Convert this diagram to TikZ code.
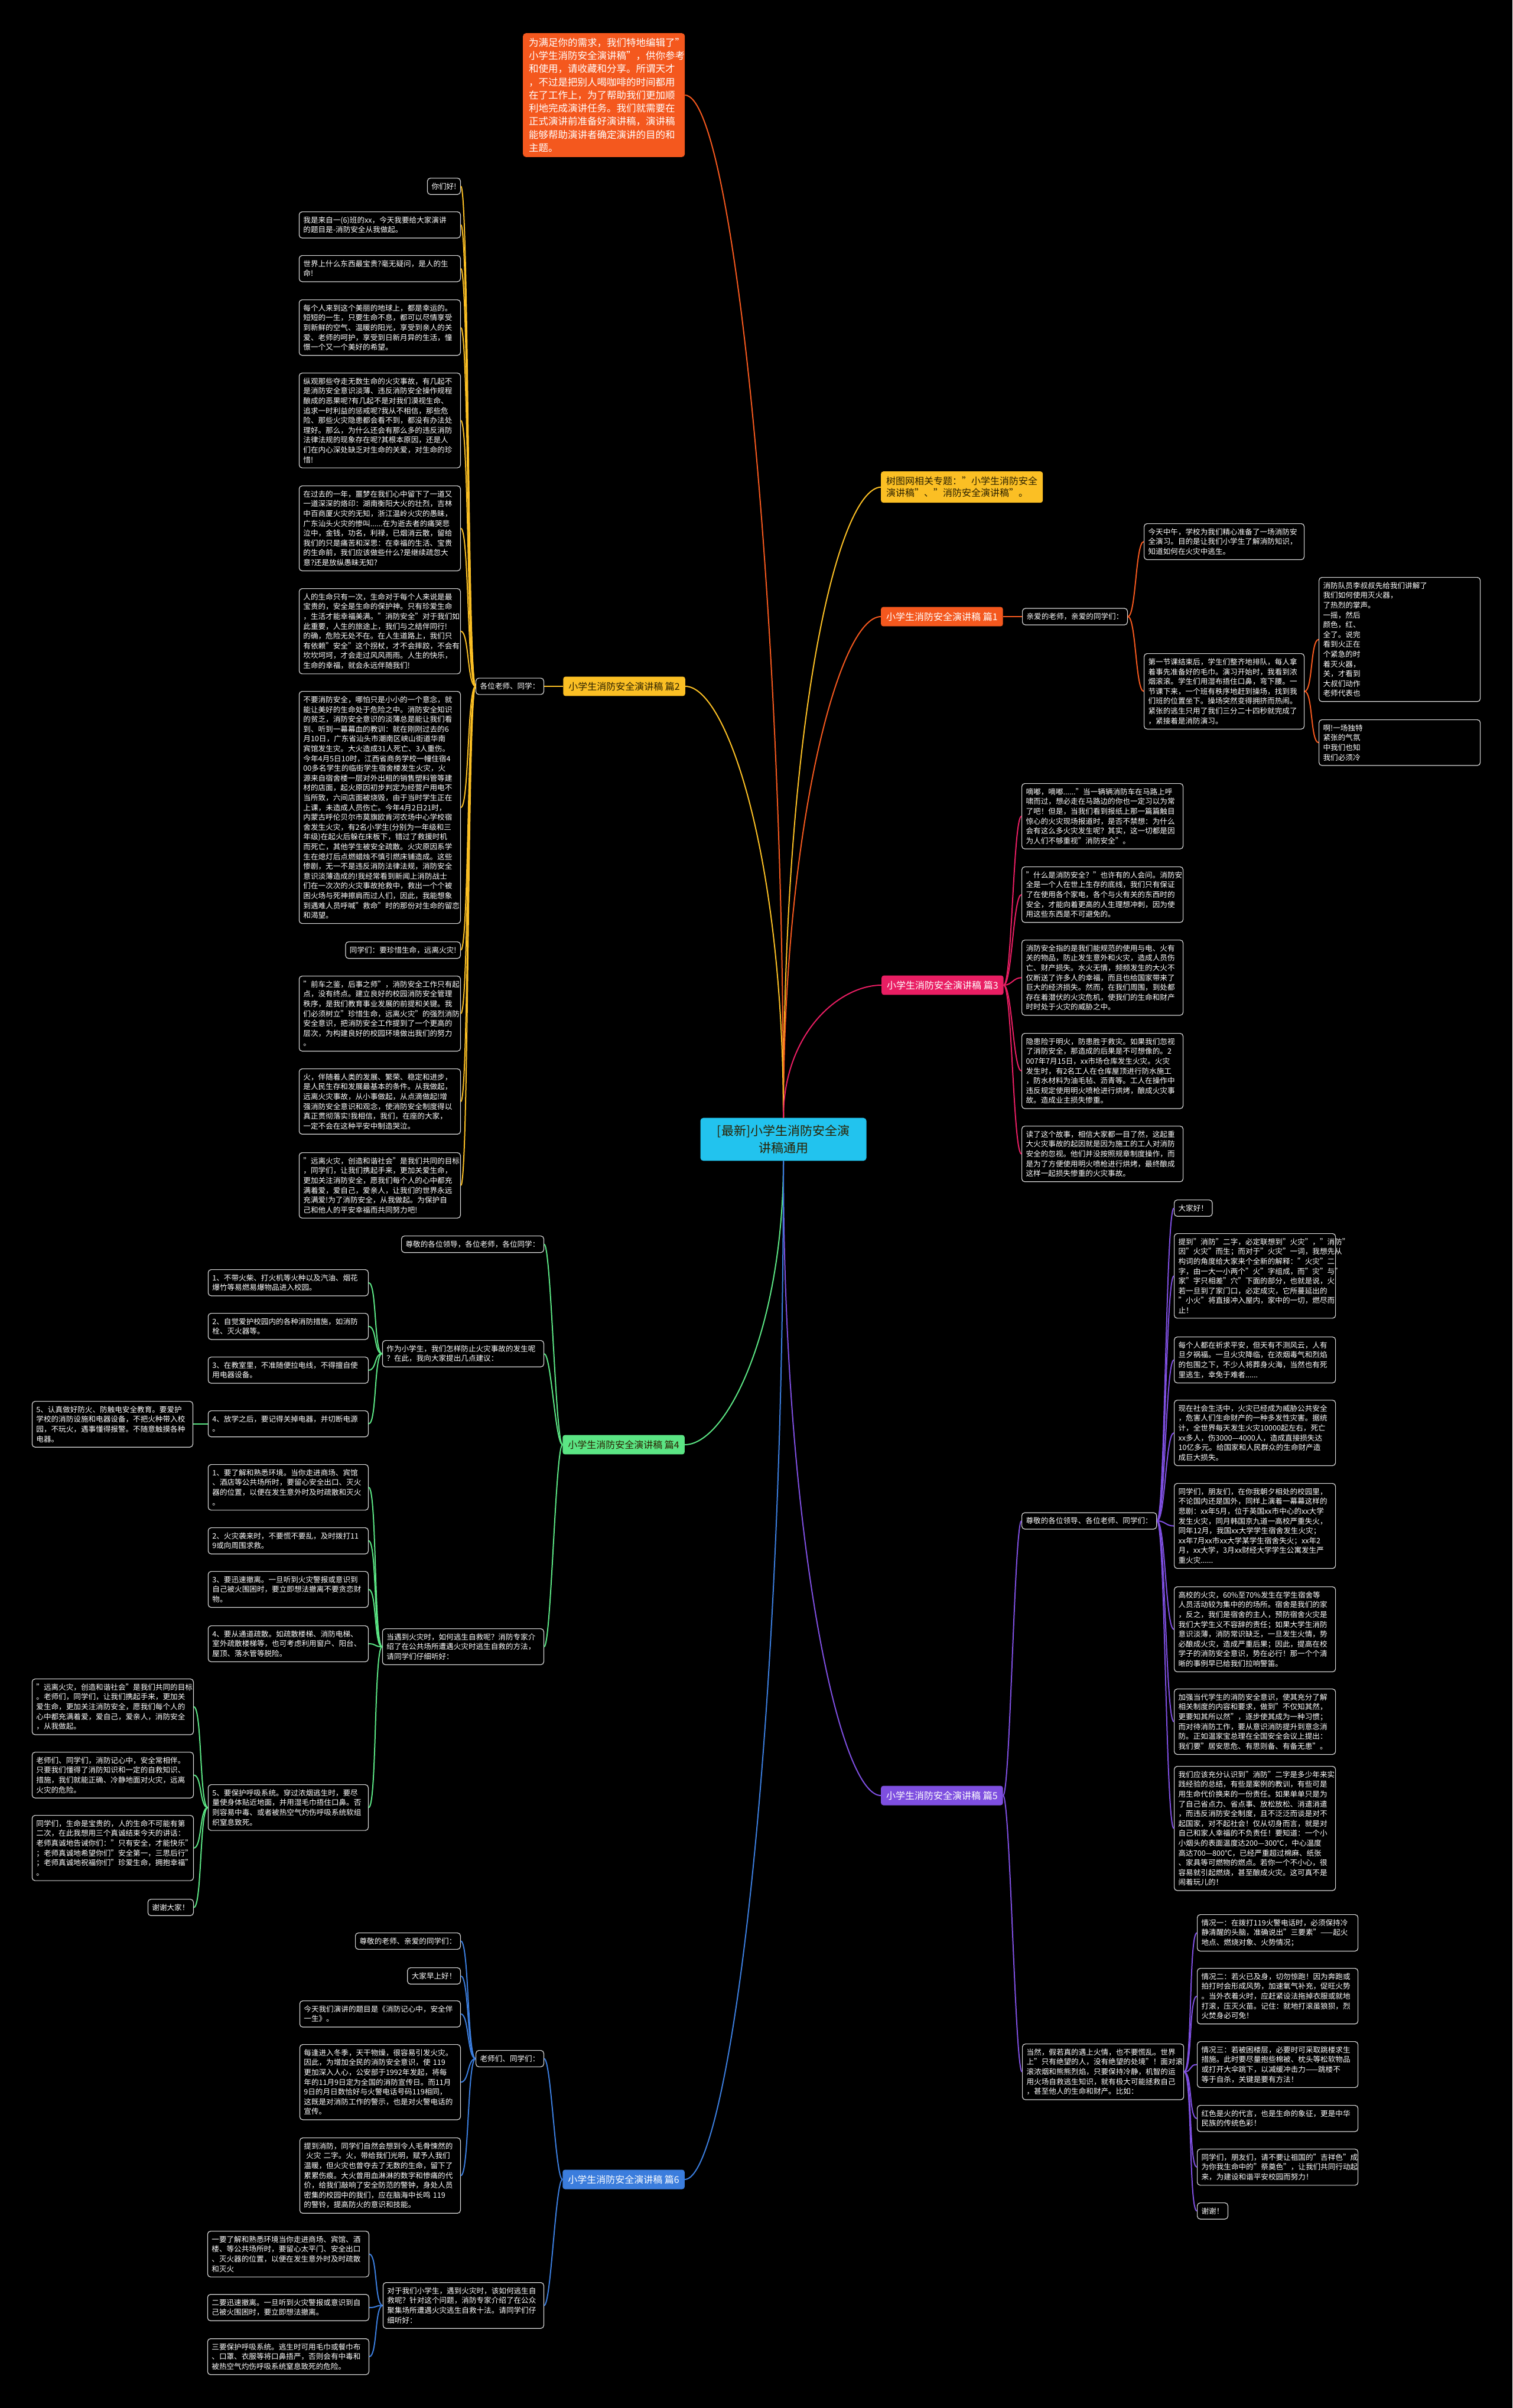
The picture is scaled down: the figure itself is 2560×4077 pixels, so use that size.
\documentclass[tikz,border=0pt]{standalone}
\usepackage{fontspec}
\setmainfont{Noto Sans CJK SC}
\definecolor{cOrange}{HTML}{F4581E}
\definecolor{cAmber}{HTML}{FBBF24}
\definecolor{cPink}{HTML}{E91E63}
\definecolor{cGreen}{HTML}{5BE584}
\definecolor{cPurple}{HTML}{7E4FE0}
\definecolor{cBlue}{HTML}{3B7DDD}
\definecolor{cCyan}{HTML}{22C3EE}
\definecolor{cDark}{HTML}{2B2100}
\begin{document}
\begin{tikzpicture}[x=1pt,y=-1pt,
    leaf/.style={draw=white!85!black,line width=1.2pt,rounded corners=5pt,fill=black,text=white,
      font=\fontsize{12.6}{16.6}\selectfont,align=left,inner xsep=7pt,inner ysep=8pt},
    para/.style={leaf,text width=259pt},
    branch/.style={rounded corners=4pt,font=\fontsize{16}{20}\selectfont,inner xsep=9pt,inner ysep=9pt},
    link/.style={line width=2pt}]
\useasboundingbox (0,0) rectangle (2560,4077);
\fill[black] (0,0) rectangle (2560,4077);

% centre and top note
\node[fill=cCyan,text=cDark,rounded corners=5pt,font=\fontsize{21}{29}\selectfont,align=center,
  text width=257pt,inner xsep=12pt,inner ysep=12pt] (ctr) at (1326,1929) {[最新]小学生消防安全演\\讲稿通用};
\node[fill=cOrange,text=white,rounded corners=5pt,font=\fontsize{16.5}{22.3}\selectfont,align=left,
  text width=254pt,inner xsep=10pt,inner ysep=8pt,anchor=north west] (note) at (885,56)
  {为满足你的需求，我们特地编辑了"\\小学生消防安全演讲稿"，供你参考\\和使用，请收藏和分享。所谓天才\\，不过是把别人喝咖啡的时间都用\\在了工作上，为了帮助我们更加顺\\利地完成演讲任务。我们就需要在\\正式演讲前准备好演讲稿，演讲稿\\能够帮助演讲者确定演讲的目的和\\主题。};
\node[branch,fill=cAmber,text=cDark,align=left,anchor=north west] (rel) at (1491,798)
  {树图网相关专题："小学生消防安全\\演讲稿"、"消防安全演讲稿"。};

% branch nodes
\node[branch,fill=cOrange,text=white,anchor=west] (b1) at (1491,1044) {小学生消防安全演讲稿 篇1};
\node[branch,fill=cAmber,text=cDark,anchor=east] (b2) at (1160,1162) {小学生消防安全演讲稿 篇2};
\node[branch,fill=cPink,text=white,anchor=west] (b3) at (1492,1668) {小学生消防安全演讲稿 篇3};
\node[branch,fill=cGreen,text=cDark,anchor=east] (b4) at (1159,2446) {小学生消防安全演讲稿 篇4};
\node[branch,fill=cPurple,text=white,anchor=west] (b5) at (1491,3040) {小学生消防安全演讲稿 篇5};
\node[branch,fill=cBlue,text=white,anchor=east] (b6) at (1159,3690) {小学生消防安全演讲稿 篇6};

\draw[link,cOrange] (ctr.north) .. controls (1326,1000) and (1240,163) .. (note.east);
\draw[link,cAmber] (ctr.north) .. controls (1326,1200) and (1420,828) .. (rel.west);
\draw[link,cOrange] (ctr.north) .. controls (1326,1400) and (1420,1044) .. (b1.west);
\draw[link,cAmber] (ctr.north) .. controls (1326,1450) and (1230,1162) .. (b2.east);
\draw[link,cPink] (ctr.north) .. controls (1326,1750) and (1420,1668) .. (b3.west);
\draw[link,cGreen] (ctr.south) .. controls (1326,2250) and (1230,2446) .. (b4.east);
\draw[link,cPurple] (ctr.south) .. controls (1326,2600) and (1420,3040) .. (b5.west);
\draw[link,cBlue] (ctr.south) .. controls (1326,3000) and (1230,3690) .. (b6.east);

% part 1
\node[leaf,anchor=west] (h1) at (1730,1044) {亲爱的老师，亲爱的同学们：};
\node[para,text width=257pt,anchor=north west] (l1a) at (1936,886)
  {今天中午，学校为我们精心准备了一场消防安\\全演习。目的是让我们小学生了解消防知识，\\知道如何在火灾中逃生。};
\node[para,text width=257pt,anchor=north west] (l1b) at (1936,1106)
  {第一节课结束后，学生们整齐地排队，每人拿\\着事先准备好的毛巾。演习开始时，我看到浓\\烟滚滚。学生们用湿布捂住口鼻，弯下腰。一\\节课下来，一个班有秩序地赶到操场，找到我\\们班的位置坐下。操场突然变得拥挤而热闹。\\紧张的逃生只用了我们三分二十四秒就完成了\\，紧接着是消防演习。};
\node[para,anchor=north west] (l1c) at (2232,977)
  {消防队员李叔叔先给我们讲解了\\我们如何使用灭火器，\\了热烈的掌声。\\一摇，然后\\颜色，红、\\全了。说完\\看到火正在\\个紧急的时\\着灭火器，\\关，才看到\\大叔们动作\\老师代表也};
\node[para,anchor=north west] (l1d) at (2232,1218)
  {啊!一场独特\\紧张的气氛\\中我们也知\\我们必须冷};
\draw[link,cOrange] (b1.east) -- (h1.west);
\foreach \n in {l1a,l1b}
  \draw[link,cOrange] (h1.east) .. controls +(14,0) and +(-14,0) .. (\n.west);
\foreach \n in {l1c,l1d}
  \draw[link,cOrange] (l1b.east) .. controls +(14,0) and +(-14,0) .. (\n.west);

% part 2
\node[leaf,anchor=east] (h2) at (921,1162) {各位老师、同学：};
\node[leaf,anchor=north east] (l2a) at (780,301) {你们好!};
\node[para,anchor=north east] (l2b) at (780,358)
  {我是来自一(6)班的xx，今天我要给大家演讲\\的题目是-消防安全从我做起。};
\node[para,anchor=north east] (l2c) at (780,432)
  {世界上什么东西最宝贵?毫无疑问，是人的生\\命!};
\node[para,anchor=north east] (l2d) at (780,507)
  {每个人来到这个美丽的地球上，都是幸运的。\\短短的一生，只要生命不息，都可以尽情享受\\到新鲜的空气、温暖的阳光，享受到亲人的关\\爱、老师的呵护，享受到日新月异的生活，憧\\憬一个又一个美好的希望。};
\node[para,anchor=north east] (l2e) at (780,631)
  {纵观那些夺走无数生命的火灾事故，有几起不\\是消防安全意识淡薄、违反消防安全操作规程\\酿成的恶果呢?有几起不是对我们漠视生命、\\追求一时利益的惩戒呢?我从不相信，那些危\\险、那些火灾隐患都会看不到，都没有办法处\\理好。那么，为什么还会有那么多的违反消防\\法律法规的现象存在呢?其根本原因，还是人\\们在内心深处缺乏对生命的关爱，对生命的珍\\惜!};
\node[para,anchor=north east] (l2f) at (780,822)
  {在过去的一年，噩梦在我们心中留下了一道又\\一道深深的烙印：湖南衡阳大火的壮烈，吉林\\中百商厦火灾的无知，浙江温岭火灾的愚昧，\\广东汕头火灾的惨叫......在为逝去者的痛哭悲\\泣中，金钱，功名，利禄，已烟消云散，留给\\我们的只是痛苦和深思：在幸福的生活、宝贵\\的生命前，我们应该做些什么?是继续疏忽大\\意?还是放纵愚昧无知?};
\node[para,anchor=north east] (l2g) at (780,996)
  {人的生命只有一次，生命对于每个人来说是最\\宝贵的，安全是生命的保护神。只有珍爱生命\\，生活才能幸福美满。"消防安全"对于我们如\\此重要，人生的旅途上，我们与之结伴同行!\\的确，危险无处不在。在人生道路上，我们只\\有依赖"安全"这个拐杖，才不会摔跤，不会有\\坎坎坷坷，才会走过风风雨雨。人生的快乐，\\生命的幸福，就会永远伴随我们!};
\node[para,anchor=north east] (l2h) at (780,1170)
  {不要消防安全，哪怕只是小小的一个意念，就\\能让美好的生命处于危险之中。消防安全知识\\的贫乏，消防安全意识的淡薄总是能让我们看\\到、听到一幕幕血的教训：就在刚刚过去的6\\月10日，广东省汕头市潮南区峡山街道华南\\宾馆发生灾。大火造成31人死亡、3人重伤。\\今年4月5日10时，江西省商务学校一幢住宿4\\00多名学生的临街学生宿舍楼发生火灾，火\\源来自宿舍楼一层对外出租的销售塑料管等建\\材的店面，起火原因初步判定为经营户用电不\\当所致，六间店面被烧毁，由于当时学生正在\\上课，未造成人员伤亡。今年4月2日21时，\\内蒙古呼伦贝尔市莫旗欧肯河农场中心学校宿\\舍发生火灾，有2名小学生(分别为一年级和三\\年级)在起火后躲在床板下，错过了救援时机\\而死亡，其他学生被安全疏散。火灾原因系学\\生在熄灯后点燃蜡烛不慎引燃床铺造成。这些\\惨剧，无一不是违反消防法律法规，消防安全\\意识淡薄造成的!我经常看到新闻上消防战士\\们在一次次的火灾事故抢救中，救出一个个被\\困火场与死神擦肩而过人们，因此，我能想象\\到遇难人员呼喊"救命"时的那份对生命的留恋\\和渴望。};
\node[leaf,anchor=north east] (l2i) at (780,1594) {同学们：要珍惜生命，远离火灾!};
\node[para,anchor=north east] (l2j) at (780,1652)
  {"前车之鉴，后事之师"，消防安全工作只有起\\点，没有终点。建立良好的校园消防安全管理\\秩序，是我们教育事业发展的前提和关键。我\\们必须树立"珍惜生命，远离火灾"的强烈消防\\安全意识，把消防安全工作提到了一个更高的\\层次，为构建良好的校园环境做出我们的努力\\。};
\node[para,anchor=north east] (l2k) at (780,1809)
  {火，伴随着人类的发展、繁荣、稳定和进步，\\是人民生存和发展最基本的条件。从我做起，\\远离火灾事故，从小事做起，从点滴做起!增\\强消防安全意识和观念，使消防安全制度得以\\真正贯彻落实!我相信，我们，在座的大家，\\一定不会在这种平安中制造哭泣。};
\node[para,anchor=north east] (l2l) at (780,1951)
  {"远离火灾，创造和谐社会"是我们共同的目标\\，同学们，让我们携起手来，更加关爱生命，\\更加关注消防安全，愿我们每个人的心中都充\\满着爱，爱自己，爱亲人，让我们的世界永远\\充满爱!为了消防安全，从我做起。为保护自\\己和他人的平安幸福而共同努力吧!};
\draw[link,cAmber] (b2.west) -- (h2.east);
\foreach \n in {l2a,l2b,l2c,l2d,l2e,l2f,l2g,l2h,l2i,l2j,l2k,l2l}
  \draw[link,cAmber] (h2.west) .. controls +(-14,0) and +(14,0) .. (\n.east);

% part 3
\node[para,anchor=north west] (l3a) at (1729,1326)
  {嘀嘟，嘀嘟......"当一辆辆消防车在马路上呼\\啸而过，想必走在马路边的你也一定习以为常\\了吧！但是，当我们看到报纸上那一篇篇触目\\惊心的火灾现场报道时，是否不禁想：为什么\\会有这么多火灾发生呢？其实，这一切都是因\\为人们不够重视"消防安全"。};
\node[para,anchor=north west] (l3b) at (1729,1467)
  {"什么是消防安全？"也许有的人会问。消防安\\全是一个人在世上生存的底线，我们只有保证\\了在使用各个家电，各个与火有关的东西时的\\安全，才能向着更高的人生理想冲刺，因为使\\用这些东西是不可避免的。};
\node[para,anchor=north west] (l3c) at (1729,1591)
  {消防安全指的是我们能规范的使用与电、火有\\关的物品，防止发生意外和火灾，造成人员伤\\亡、财产损失。水火无情，频频发生的大火不\\仅断送了许多人的幸福，而且也给国家带来了\\巨大的经济损失。然而，在我们周围，到处都\\存在着潜伏的火灾危机，使我们的生命和财产\\时时处于火灾的威胁之中。};
\node[para,anchor=north west] (l3d) at (1729,1749)
  {隐患险于明火，防患胜于救灾。如果我们忽视\\了消防安全，那造成的后果是不可想像的。2\\007年7月15日，xx市场仓库发生火灾。火灾\\发生时，有2名工人在仓库屋顶进行防水施工\\，防水材料为油毛毡、沥青等。工人在操作中\\违反规定使用明火喷枪进行烘烤，酿成火灾事\\故。造成业主损失惨重。};
\node[para,anchor=north west] (l3e) at (1729,1906)
  {读了这个故事，相信大家都一目了然，这起重\\大火灾事故的起因就是因为施工的工人对消防\\安全的忽视。他们并没按照规章制度操作，而\\是为了方便使用明火喷枪进行烘烤，最终酿成\\这样一起损失惨重的火灾事故。};
\foreach \n in {l3a,l3b,l3c,l3d,l3e}
  \draw[link,cPink] (b3.east) .. controls +(14,0) and +(-14,0) .. (\n.west);

% part 4
\node[leaf,anchor=north east] (h4a) at (921,2092) {尊敬的各位领导，各位老师，各位同学：};
\node[para,anchor=north east] (h4b) at (921,2269)
  {作为小学生，我们怎样防止火灾事故的发生呢\\？在此，我向大家提出几点建议：};
\node[para,anchor=north east] (h4c) at (921,2757)
  {当遇到火灾时，如何逃生自救呢？消防专家介\\绍了在公共场所遭遇火灾时逃生自救的方法，\\请同学们仔细听好：};
\node[para,text width=257pt,anchor=north east] (l4a) at (624,2149)
  {1、不带火柴、打火机等火种以及汽油、烟花\\爆竹等易燃易爆物品进入校园。};
\node[para,text width=257pt,anchor=north east] (l4b) at (624,2223)
  {2、自觉爱护校园内的各种消防措施，如消防\\栓、灭火器等。};
\node[para,text width=257pt,anchor=north east] (l4c) at (624,2297)
  {3、在教室里，不准随便拉电线，不得擅自使\\用电器设备。};
\node[para,text width=257pt,anchor=north east] (l4d) at (624,2388)
  {4、放学之后，要记得关掉电器，并切断电源\\。};
\node[para,text width=258pt,anchor=north east] (l4e) at (327,2372)
  {5、认真做好防火、防触电安全教育。要爱护\\学校的消防设施和电器设备，不把火种带入校\\园，不玩火，遇事懂得报警。不随意触摸各种\\电器。};
\node[para,text width=257pt,anchor=north east] (l4f) at (624,2479)
  {1、要了解和熟悉环境。当你走进商场、宾馆\\、酒店等公共场所时，要留心安全出口、灭火\\器的位置，以便在发生意外时及时疏散和灭火\\。};
\node[para,text width=257pt,anchor=north east] (l4g) at (624,2586)
  {2、火灾袭来时，不要慌不要乱，及时拨打11\\9或向周围求救。};
\node[para,text width=257pt,anchor=north east] (l4h) at (624,2660)
  {3、要迅速撤离。一旦听到火灾警报或意识到\\自己被火围困时，要立即想法撤离不要贪恋财\\物。};
\node[para,text width=257pt,anchor=north east] (l4i) at (624,2752)
  {4、要从通道疏散。如疏散楼梯、消防电梯、\\室外疏散楼梯等，也可考虑利用窗户、阳台、\\屋顶、落水管等脱险。};
\node[para,text width=257pt,anchor=north east] (l4j) at (624,3021)
  {5、要保护呼吸系统。穿过浓烟逃生时，要尽\\量使身体贴近地面，并用湿毛巾捂住口鼻。否\\则容易中毒、或者被热空气灼伤呼吸系统软组\\织窒息致死。};
\node[para,text width=259pt,anchor=north east] (l4k) at (328,2842)
  {"远离火灾，创造和谐社会"是我们共同的目标\\。老师们，同学们，让我们携起手来，更加关\\爱生命，更加关注消防安全，愿我们每个人的\\心中都充满着爱，爱自己，爱亲人，消防安全\\，从我做起。};
\node[para,text width=259pt,anchor=north east] (l4l) at (328,2966)
  {老师们、同学们，消防记心中，安全常相伴。\\只要我们懂得了消防知识和一定的自救知识、\\措施，我们就能正确、冷静地面对火灾，远离\\火灾的危险。};
\node[para,text width=259pt,anchor=north east] (l4m) at (328,3073)
  {同学们，生命是宝贵的，人的生命不可能有第\\二次，在此我想用三个真诚结束今天的讲话：\\老师真诚地告诫你们："只有安全，才能快乐"\\；老师真诚地希望你们"安全第一，三思后行"\\；老师真诚地祝福你们"珍爱生命，拥抱幸福"\\。};
\node[leaf,anchor=north east] (l4n) at (328,3215) {谢谢大家！};
\foreach \n in {h4a,h4b,h4c}
  \draw[link,cGreen] (b4.west) .. controls +(-12,0) and +(12,0) .. (\n.east);
\foreach \n in {l4a,l4b,l4c,l4d}
  \draw[link,cGreen] (h4b.west) .. controls +(-14,0) and +(14,0) .. (\n.east);
\draw[link,cGreen] (l4d.west) -- (l4e.east |- l4d.west);
\foreach \n in {l4f,l4g,l4h,l4i,l4j}
  \draw[link,cGreen] (h4c.west) .. controls +(-14,0) and +(14,0) .. (\n.east);
\foreach \n in {l4k,l4l,l4m,l4n}
  \draw[link,cGreen] (l4j.west) .. controls +(-14,0) and +(14,0) .. (\n.east);

% part 5
\node[leaf,anchor=west] (h5a) at (1729,2575) {尊敬的各位领导、各位老师、同学们：};
\node[para,anchor=north west] (h5b) at (1730,3460)
  {当然，假若真的遇上火情，也不要慌乱。世界\\上"只有绝望的人，没有绝望的处境"！面对滚\\滚浓烟和熊熊烈焰，只要保持冷静，机智的运\\用火场自救逃生知识，就有极大可能拯救自己\\，甚至他人的生命和财产。比如：};
\node[leaf,anchor=north west] (l5a) at (1987,2031) {大家好！};
\node[para,anchor=north west] (l5b) at (1987,2088)
  {提到"消防"二字，必定联想到"火灾"，"消防"\\因"火灾"而生；而对于"火灾"一词，我想先从\\构词的角度给大家来个全新的解释："火灾"二\\字，由一大一小两个"火"字组成，而"灾"与"\\家"字只相差"穴"下面的部分，也就是说，火\\若一旦到了家门口，必定成灾，它所蔓延出的\\"小火"将直接冲入屋内，家中的一切，燃尽而\\止！};
\node[para,anchor=north west] (l5c) at (1987,2263)
  {每个人都在祈求平安，但天有不测风云，人有\\旦夕祸福。一旦火灾降临，在浓烟毒气和烈焰\\的包围之下，不少人将葬身火海，当然也有死\\里逃生，幸免于难者......};
\node[para,anchor=north west] (l5d) at (1987,2370)
  {现在社会生活中，火灾已经成为威胁公共安全\\，危害人们生命财产的一种多发性灾害。据统\\计，全世界每天发生火灾10000起左右，死亡\\xx多人，伤3000—4000人，造成直接损失达\\10亿多元。给国家和人民群众的生命财产造\\成巨大损失。};
\node[para,anchor=north west] (l5e) at (1987,2511)
  {同学们，朋友们，在你我朝夕相处的校园里，\\不论国内还是国外，同样上演着一幕幕这样的\\悲剧：xx年5月，位于英国xx市中心的xx大学\\发生火灾，同月韩国京九道一高校严重失火，\\同年12月，我国xx大学学生宿舍发生火灾；\\xx年7月xx市xx大学某学生宿舍失火；xx年2\\月，xx大学，3月xx财经大学学生公寓发生严\\重火灾......};
\node[para,anchor=north west] (l5f) at (1987,2686)
  {高校的火灾，60\%至70\%发生在学生宿舍等\\人员活动较为集中的的场所。宿舍是我们的家\\，反之，我们是宿舍的主人，预防宿舍火灾是\\我们大学生义不容辞的责任；如果大学生消防\\意识淡薄，消防常识缺乏，一旦发生火情，势\\必酿成火灾，造成严重后果；因此，提高在校\\学子的消防安全意识，势在必行！那一个个清\\晰的事例早已给我们拉响警笛。};
\node[para,anchor=north west] (l5g) at (1987,2859)
  {加强当代学生的消防安全意识，使其充分了解\\相关制度的内容和要求，做到"不仅知其然，\\更要知其所以然"，逐步使其成为一种习惯；\\而对待消防工作，要从意识消防提升到意念消\\防。正如温家宝总理在全国安全会议上提出：\\我们要"居安思危、有思则备、有备无患"。};
\node[para,anchor=north west] (l5h) at (1987,2990)
  {我们应该充分认识到"消防"二字是多少年来实\\践经验的总结，有些是案例的教训，有些可是\\用生命代价换来的一份责任。如果单单只是为\\了自己省点力、省点事、放松放松、消遣消遣\\，而违反消防安全制度，且不泛泛而谈是对不\\起国家，对不起社会！仅从切身而言，就是对\\自己和家人幸福的不负责任！要知道：一个小\\小烟头的表面温度达200—300℃，中心温度\\高达700—800℃，已经严重超过棉麻、纸张\\、家具等可燃物的燃点。若你一个不小心，很\\容易就引起燃烧，甚至酿成火灾。这可真不是\\闹着玩儿的！};
\node[para,text width=258pt,anchor=north west] (l5i) at (2026,3241)
  {情况一：在拨打119火警电话时，必须保持冷\\静清醒的头脑，准确说出"三要素"——起火\\地点、燃烧对象、火势情况；};
\node[para,text width=258pt,anchor=north west] (l5j) at (2026,3332)
  {情况二：若火已及身，切勿惊跑！因为奔跑或\\拍打时会形成风势，加速氧气补充，促旺火势\\。当外衣着火时，应赶紧设法拖掉衣服或就地\\打滚，压灭火苗。记住：就地打滚虽狼狈，烈\\火焚身必可免！};
\node[para,text width=258pt,anchor=north west] (l5k) at (2026,3456)
  {情况三：若被困楼层，必要时可采取跳楼求生\\措施。此时要尽量抱些棉被、枕头等松软物品\\或打开大伞跳下，以减缓冲击力——跳楼不\\等于自杀，关键是要有方法！};
\node[para,text width=258pt,anchor=north west] (l5l) at (2026,3564)
  {红色是火的代言，也是生命的象征，更是中华\\民族的传统色彩！};
\node[para,text width=258pt,anchor=north west] (l5m) at (2026,3638)
  {同学们，朋友们，请不要让祖国的"吉祥色"成\\为你我生命中的"祭奠色"，让我们共同行动起\\来，为建设和谐平安校园而努力！};
\node[leaf,anchor=north west] (l5n) at (2026,3729) {谢谢！};
\foreach \n in {h5a,h5b}
  \draw[link,cPurple] (b5.east) .. controls +(12,0) and +(-12,0) .. (\n.west);
\foreach \n in {l5a,l5b,l5c,l5d,l5e,l5f,l5g,l5h}
  \draw[link,cPurple] (h5a.east) .. controls +(14,0) and +(-14,0) .. (\n.west);
\foreach \n in {l5i,l5j,l5k,l5l,l5m,l5n}
  \draw[link,cPurple] (h5b.east) .. controls +(14,0) and +(-14,0) .. (\n.west);

% part 6
\node[leaf,anchor=north east] (h6a) at (921,3471) {老师们、同学们：};
\node[para,text width=258pt,anchor=north east] (h6b) at (921,3864)
  {对于我们小学生，遇到火灾时，该如何逃生自\\救呢？针对这个问题，消防专家介绍了在公众\\聚集场所遭遇火灾逃生自救十法。请同学们仔\\细听好：};
\node[leaf,anchor=north east] (l6a) at (780,3272) {尊敬的老师、亲爱的同学们：};
\node[leaf,anchor=north east] (l6b) at (780,3331) {大家早上好！};
\node[para,text width=258pt,anchor=north east] (l6c) at (780,3387)
  {今天我们演讲的题目是《消防记心中，安全伴\\一生》。};
\node[para,text width=258pt,anchor=north east] (l6d) at (780,3461)
  {每逢进入冬季，天干物燥，很容易引发火灾。\\因此，为增加全民的消防安全意识，使 119\\更加深入人心，公安部于1992年发起，将每\\年的11月9日定为全国的消防宣传日。而11月\\9日的月日数恰好与火警电话号码119相同，\\这既是对消防工作的警示，也是对火警电话的\\宣传。};
\node[para,text width=258pt,anchor=north east] (l6e) at (780,3619)
  {提到消防，同学们自然会想到令人毛骨悚然的\\\hspace*{0.3em}火灾 二字。火，带给我们光明，赋予人我们\\温暖，但火灾也曾夺去了无数的生命，留下了\\累累伤痕。大火曾用血淋淋的数字和惨痛的代\\价，给我们敲响了安全防范的警钟，身处人员\\密集的校园中的我们，应在脑海中长鸣 119\\的警铃，提高防火的意识和技能。};
\node[para,anchor=north east] (l6f) at (625,3777)
  {一要了解和熟悉环境当你走进商场、宾馆、酒\\楼、等公共场所时，要留心太平门、安全出口\\、灭火器的位置，以便在发生意外时及时疏散\\和灭火};
\node[para,anchor=north east] (l6g) at (625,3884)
  {二要迅速撤离。一旦听到火灾警报或意识到自\\己被火围困时，要立即想法撤离。};
\node[para,anchor=north east] (l6h) at (625,3959)
  {三要保护呼吸系统。逃生时可用毛巾或餐巾布\\、口罩、衣服等将口鼻捂严，否则会有中毒和\\被热空气灼伤呼吸系统窒息致死的危险。};
\foreach \n in {h6a,h6b}
  \draw[link,cBlue] (b6.west) .. controls +(-12,0) and +(12,0) .. (\n.east);
\foreach \n in {l6a,l6b,l6c,l6d,l6e}
  \draw[link,cBlue] (h6a.west) .. controls +(-14,0) and +(14,0) .. (\n.east);
\foreach \n in {l6f,l6g,l6h}
  \draw[link,cBlue] (h6b.west) .. controls +(-14,0) and +(14,0) .. (\n.east);
\end{tikzpicture}
\end{document}
